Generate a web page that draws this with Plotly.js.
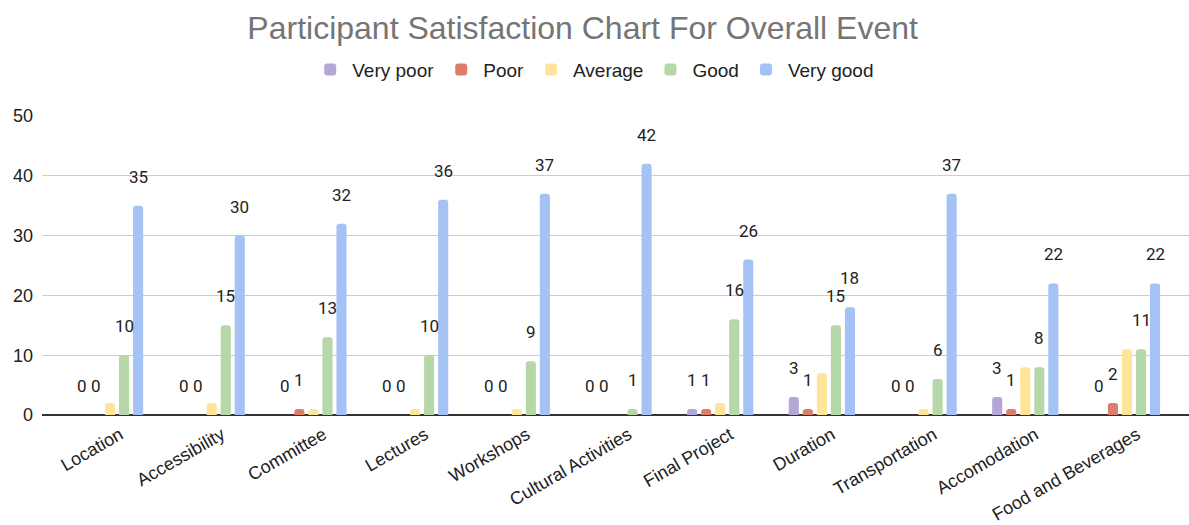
<!DOCTYPE html>
<html>
<head>
<meta charset="utf-8">
<script src="https://cdn.plot.ly/plotly-3.0.1.min.js"></script>
<style>html,body{margin:0;padding:0;background:#fff;}#chart{width:1189px;height:525px;}</style>
</head>
<body>
<div id="chart"></div>
<script>
const categories = ["Location","Accessibility","Committee","Lectures","Workshops","Cultural Activities","Final Project","Duration","Transportation","Accomodation","Food and Beverages"];
const seriesNames = ["Very poor","Poor","Average","Good","Very good"];
const veryPoor = [0,0,0,0,0,0,1,3,0,3,0];
const poor     = [0,0,1,0,0,0,1,1,0,1,2];
const average  = [2,2,1,1,1,0,2,7,1,8,11];
const good     = [10,15,13,10,9,1,16,15,6,8,11];
const veryGood = [35,30,32,36,37,42,26,18,37,22,22];
const showLabels = [true,true,false,true,true];

const series = [veryPoor, poor, average, good, veryGood];
const colors = ["#b4a7d6","#dd7e6b","#ffe599","#b6d7a8","#a4c2f4"];
const bargap = 0.31;
const n = series.length;
const slot = (1 - bargap) / n;
const ARIAL = "'Liberation Sans', Arial, sans-serif";
const ROBOTO = "Roboto, Arial, sans-serif";

const traces = series.map((vals, k) => ({
  type: "bar",
  name: seriesNames[k],
  x: categories.map((c, i) => i),
  y: vals,
  marker: {color: colors[k]},
  hoverinfo: "y+name"
}));

const annotations = [];
series.forEach((vals, k) => {
  if (!showLabels[k]) return;
  vals.forEach((v, i) => {
    annotations.push({
      x: i + (k - (n - 1) / 2) * slot,
      y: v,
      xref: "x", yref: "y",
      text: String(v),
      showarrow: false,
      yshift: 29,
      font: {family: ROBOTO, size: 17, color: "#222222"}
    });
  });
});

const layout = {
  width: 1189, height: 525,
  margin: {l: 42, r: 0, t: 116, b: 110},
  paper_bgcolor: "#ffffff", plot_bgcolor: "#ffffff",
  font: {family: ARIAL, color: "#222222", size: 18},
  title: {text: "Participant Satisfaction Chart For Overall Event", x: 0.49, xanchor: "center", y: 0.948, yanchor: "middle",
          font: {family: ARIAL, size: 32, color: "#757575"}},
  barmode: "group",
  bargap: bargap,
  bargroupgap: 0.28,
  barcornerradius: 3,
  showlegend: true,
  legend: {orientation: "h", x: 0.481, xanchor: "center", y: 1.155, yanchor: "middle",
           font: {family: ARIAL, size: 19, color: "#222222"}, itemwidth: 34, traceorder: "normal"},
  xaxis: {
    type: "linear",
    range: [-0.669, 10.61],
    tickmode: "array",
    tickvals: categories.map((c, i) => i),
    ticktext: categories,
    tickangle: -30,
    ticklabelshift: 10,
    ticklabelstandoff: 5,
    showgrid: false, zeroline: false, showline: false, ticks: "",
    tickfont: {family: ARIAL, size: 18, color: "#222222"}
  },
  yaxis: {
    range: [0, 50],
    dtick: 10,
    showgrid: true, gridcolor: "#cccccc", gridwidth: 1,
    zeroline: true, zerolinecolor: "#333333", zerolinewidth: 1.5,
    ticks: "", tickfont: {family: ARIAL, size: 18, color: "#222222"}, ticklabelstandoff: 8
  },
  annotations: annotations
};

Plotly.newPlot("chart", traces, layout, {displayModeBar: false, staticPlot: true});
</script>
</body>
</html>
